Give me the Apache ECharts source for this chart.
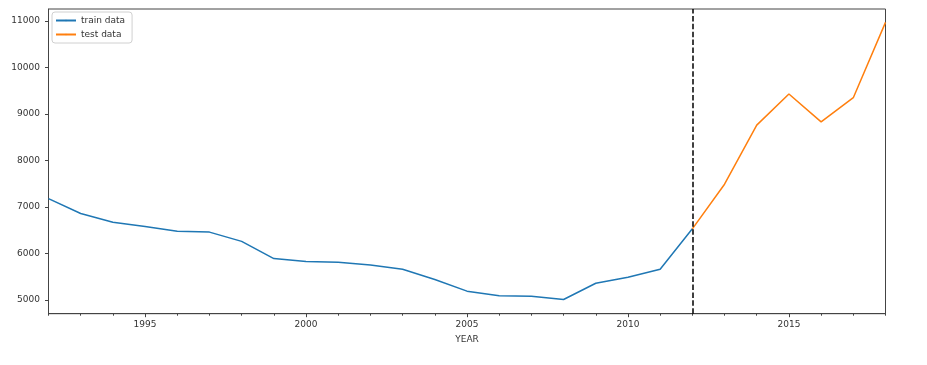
<!DOCTYPE html>
<html><head><meta charset="utf-8">
<script src="https://cdn.jsdelivr.net/npm/echarts@6/dist/echarts.min.js"></script>
<style>html,body{margin:0;padding:0;background:#fff}#c{width:927px;height:365px}</style>
</head><body><div id="c"></div>
<script>
const years = ['1992','1993','1994','1995','1996','1997','1998','1999','2000','2001','2002','2003','2004','2005','2006','2007','2008','2009','2010','2011','2012','2013','2014','2015','2016','2017','2018'];
const trainYears = ['1992','1993','1994','1995','1996','1997','1998','1999','2000','2001','2002','2003','2004','2005','2006','2007','2008','2009','2010','2011','2012'];
const trainValues = [7180,6860,6670,6580,6480,6460,6260,5890,5830,5810,5750,5660,5440,5190,5090,5080,5010,5360,5490,5660,6530];
const testYears = ['2012','2013','2014','2015','2016','2017','2018'];
const testValues = [6530,7490,8760,9430,8830,9350,10970];
const splitYear = '2012';
const yMin = 4705, yMax = 11258;

const axisColor = '#444';
const textColor = '#333';
const font = 'DejaVu Sans';

const chart = echarts.init(document.getElementById('c'));
chart.setOption({
  animation: false,
  backgroundColor: '#fff',
  textStyle: {fontFamily: font},
  grid: {left: 48.5, right: 41.5, top: 9, bottom: 51.3, show: true, borderColor: axisColor, borderWidth: 1, containLabel: false},
  legend: {
    orient: 'vertical', left: 52, top: 12,
    itemWidth: 20, itemHeight: 2, itemGap: 5,
    padding: [4, 7, 4, 3],
    backgroundColor: '#fff', borderColor: '#d0d0d0', borderWidth: 1, borderRadius: 3,
    textStyle: {fontSize: 9, color: textColor, fontFamily: font},
    data: ['train data', 'test data']
  },
  xAxis: [{
    type: 'category', data: years, boundaryGap: false,
    name: 'YEAR', nameLocation: 'middle', nameGap: 21,
    nameTextStyle: {fontSize: 9, color: textColor, fontFamily: font},
    axisLine: {lineStyle: {color: axisColor, width: 1}},
    axisTick: {length: 3.5, lineStyle: {color: axisColor}, interval: (i, v) => (+v) % 5 === 0},
    axisLabel: {fontSize: 9, color: textColor, margin: 6, interval: (i, v) => (+v) % 5 === 0},
    splitLine: {show: false}
  }, {
    type: 'category', data: years, boundaryGap: false, position: 'bottom',
    axisLine: {show: false},
    axisTick: {length: 2, lineStyle: {color: axisColor}, interval: 0},
    axisLabel: {show: false},
    splitLine: {show: false}
  }],
  yAxis: {
    type: 'value', min: yMin, max: yMax, splitNumber: 6,
    axisLine: {show: true, lineStyle: {color: axisColor, width: 1}},
    axisTick: {show: true, length: 3.5, lineStyle: {color: axisColor}},
    axisLabel: {fontSize: 9, color: textColor, margin: 8.5, showMinLabel: false, showMaxLabel: false, formatter: v => String(v)},
    splitLine: {show: false}
  },
  series: [{
    name: 'train data', type: 'line', xAxisIndex: 0,
    data: trainYears.map((y, i) => [y, trainValues[i]]),
    symbol: 'none', lineStyle: {color: '#1f77b4', width: 1.5}, itemStyle: {color: '#1f77b4'},
    markLine: {
      silent: true, symbol: 'none', label: {show: false},
      lineStyle: {color: '#000', width: 1.5, type: [5.5, 2.4]},
      data: [{xAxis: splitYear}]
    }
  }, {
    name: 'test data', type: 'line', xAxisIndex: 0,
    data: testYears.map((y, i) => [y, testValues[i]]),
    symbol: 'none', lineStyle: {color: '#ff7f0e', width: 1.5}, itemStyle: {color: '#ff7f0e'}
  }]
});
</script></body></html>
